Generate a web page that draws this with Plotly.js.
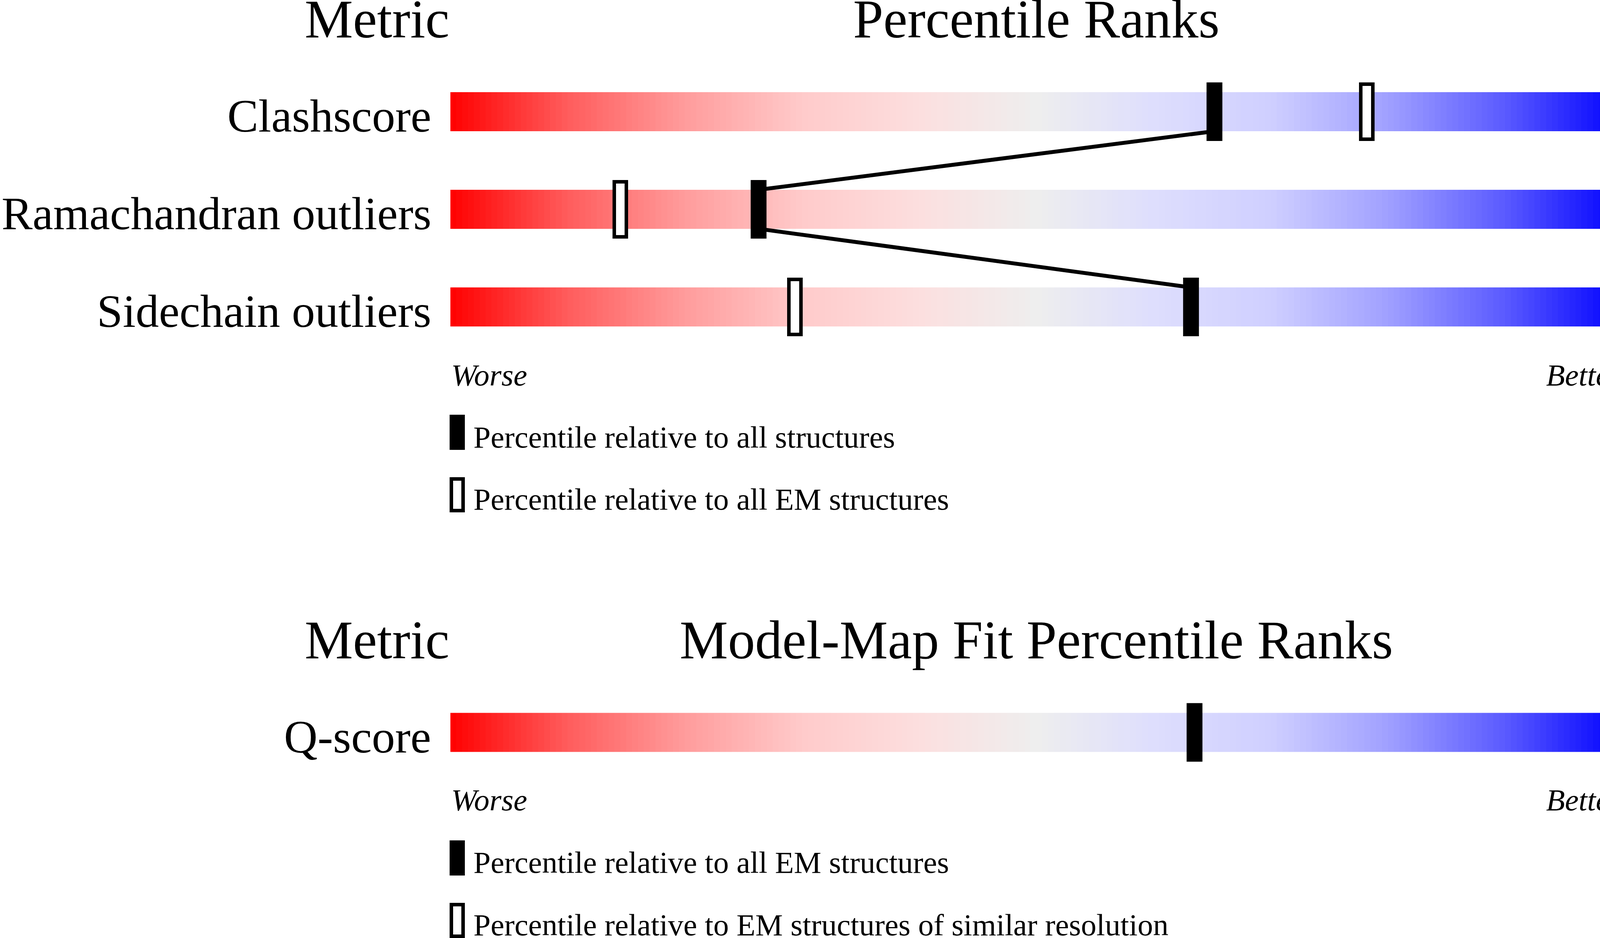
<!DOCTYPE html>
<html>
<head>
<meta charset="utf-8">
<script src="https://cdn.plot.ly/plotly-3.0.1.min.js"></script>
<style>
  body { margin: 0; background: #fff; }
  #slider { width: 4485px; height: 2402px; }
</style>
</head>
<body>
<div id="slider"></div>
<script>
// geometry / validation percentile data
const metrics = ['Clashscore', 'Ramachandran outliers', 'Sidechain outliers']
const metricValues = ['4', '0.5%', '1.1%']
const pctAll = [65.2, 26.3, 63.2]
const pctEM = [78.2, 14.5, 29.4]

// model-map fit data
const fitMetrics = ['Q-score']
const fitValues = ['0.483']
const fitPctEM = [63.5]

const legendTop = ['Percentile relative to all structures', 'Percentile relative to all EM structures']
const legendBottom = ['Percentile relative to all EM structures', 'Percentile relative to EM structures of similar resolution']

// colour ramp of the slider, worse -> better
const ramp = [
  [0, '#ff0000'], [0.1, '#ff5c5c'], [0.2, '#ff9c9c'], [0.3, '#ffcaca'],
  [0.4, '#fcdfdf'], [0.5, '#eeeeee'], [0.6, '#dedefd'], [0.7, '#cfcfff'],
  [0.8, '#a0a0ff'], [0.9, '#5a5aff'], [1, '#0000ff']
]

const W = 4485
const H = 2402
const FONT = 'Liberation Serif, Times New Roman, serif'
const px = (p) => p / W
const py = (p) => 1 - p / H

// gradient bricks along the percentile axis
const edges = []
const cells = []
for (let i = 0; i <= 200; i++) edges.push(i / 2)
for (let i = 0; i < 200; i++) cells.push(i / 2 + 0.25)

function sliderTraces (rows, xa, ya) {
  return rows.map((r) => ({
    type: 'heatmap',
    x: edges,
    y: [r - 0.2, r + 0.2],
    z: [cells],
    zmin: 0,
    zmax: 100,
    colorscale: ramp,
    showscale: false,
    hoverinfo: 'skip',
    xaxis: xa,
    yaxis: ya
  }))
}

const rowsTop = metrics.map((m, i) => i)
const rowsBottom = fitMetrics.map((m, i) => i)

var data = [].concat(sliderTraces(rowsTop, 'x', 'y'), sliderTraces(rowsBottom, 'x2', 'y2'))

// line joining the all-structure markers
const lx = []
const ly = []
pctAll.forEach((p, i) => {
  if (i > 0) { lx.push(p); ly.push(i - 0.2) }
  if (i < pctAll.length - 1) { lx.push(p); ly.push(i + 0.2) }
})
data.push({
  type: 'scatter', mode: 'lines', x: lx, y: ly,
  line: { color: '#000', width: 10 }, hoverinfo: 'skip', xaxis: 'x', yaxis: 'y'
})

function filledBars (pcts, rows, xa, ya) {
  return {
    type: 'bar', x: pcts, y: rows.map(() => 0.6), base: rows.map((r) => r - 0.3),
    width: 1.35, marker: { color: '#000', line: { width: 0 } },
    hoverinfo: 'skip', xaxis: xa, yaxis: ya
  }
}
function openBars (pcts, rows, xa, ya) {
  return {
    type: 'bar', x: pcts, y: rows.map(() => 0.564), base: rows.map((r) => r - 0.282),
    width: 1.03, marker: { color: '#fff', line: { width: 9, color: '#000' } },
    hoverinfo: 'skip', xaxis: xa, yaxis: ya
  }
}
data.push(filledBars(pctAll, rowsTop, 'x', 'y'))
data.push(openBars(pctEM, rowsTop, 'x', 'y'))
data.push(filledBars(fitPctEM, rowsBottom, 'x2', 'y2'))

const annotations = []
function txt (text, x, y, opts) {
  annotations.push(Object.assign({
    text: text, x: x, y: y, showarrow: false,
    font: { family: FONT, size: 119, color: '#000' }
  }, opts))
}

// panel headers
function headers (title, baseline, xr) {
  const yc = py(baseline - 0.3375 * 139)
  const f = { family: FONT, size: 139, color: '#000' }
  txt('Metric', 0, yc, { xref: xr, yref: 'paper', xanchor: 'right', yanchor: 'middle', font: f })
  txt(title, 50, yc, { xref: xr, yref: 'paper', xanchor: 'center', yanchor: 'middle', font: f })
  txt('Value', 100, yc, { xref: xr, yref: 'paper', xanchor: 'left', yanchor: 'middle', font: f })
}
headers('Percentile Ranks', 96, 'x')
headers('Model-Map Fit Percentile Ranks', 1686, 'x2')

function rowLabels (names, vals, xr, yr) {
  names.forEach((n, i) => {
    txt(n, 0, i, { xref: xr, yref: yr, xanchor: 'right', yanchor: 'middle', xshift: -47, yshift: -11 })
    txt(vals[i], 100, i, { xref: xr, yref: yr, xanchor: 'left', yanchor: 'middle', xshift: 49, yshift: -11 })
  })
}
rowLabels(metrics, metricValues, 'x', 'y')
rowLabels(fitMetrics, fitValues, 'x2', 'y2')

function worseBetter (baseline, xr) {
  const yc = py(baseline - 0.3375 * 79)
  const f = { family: FONT, size: 79, color: '#000', style: 'italic' }
  txt('Worse', 0, yc, { xref: xr, yref: 'paper', xanchor: 'left', yanchor: 'middle', font: f })
  txt('Better', 100, yc, { xref: xr, yref: 'paper', xanchor: 'right', yanchor: 'middle', font: f })
}
worseBetter(987, 'x')
worseBetter(2075, 'x2')

// legend entries: filled / open glyph plus text
const shapes = []
function legend (labels, baselines, tops) {
  labels.forEach((lab, i) => {
    const yc = py(baselines[i] - 0.3375 * 79)
    txt(lab, px(1210), yc, {
      xref: 'paper', yref: 'paper', xanchor: 'left', yanchor: 'middle',
      font: { family: FONT, size: 79, color: '#000' }
    })
    const t = tops[i]
    if (i === 0) {
      shapes.push({ type: 'rect', xref: 'paper', yref: 'paper', x0: px(1151), x1: px(1190),
        y0: py(t), y1: py(t + 90), fillcolor: '#000', line: { width: 0 } })
    } else {
      shapes.push({ type: 'rect', xref: 'paper', yref: 'paper', x0: px(1155.5), x1: px(1185.5),
        y0: py(t + 4.5), y1: py(t + 85.5), fillcolor: '#fff', line: { width: 9, color: '#000' } })
    }
  })
}
legend(legendTop, [1146, 1305], [1062, 1222])
legend(legendBottom, [2235, 2395], [2152, 2312])

const hidden = { visible: false, fixedrange: true, showgrid: false, zeroline: false }
var layout = {
  width: W,
  height: H,
  margin: { l: 0, r: 0, t: 0, b: 0 },
  paper_bgcolor: '#fff',
  plot_bgcolor: 'rgba(0,0,0,0)',
  showlegend: false,
  barmode: 'overlay',
  xaxis: Object.assign({ domain: [px(1153), px(4153)], range: [0, 100], anchor: 'y' }, hidden),
  xaxis2: Object.assign({ domain: [px(1153), px(4153)], range: [0, 100], anchor: 'y2' }, hidden),
  yaxis: Object.assign({ domain: [py(911), py(161)], range: [2.5, -0.5], anchor: 'x' }, hidden),
  yaxis2: Object.assign({ domain: [py(2000.5), py(1750.5)], range: [0.5, -0.5], anchor: 'x2' }, hidden),
  annotations: annotations,
  shapes: shapes
}

Plotly.newPlot('slider', data, layout, { displayModeBar: false, staticPlot: true })
</script>
</body>
</html>
